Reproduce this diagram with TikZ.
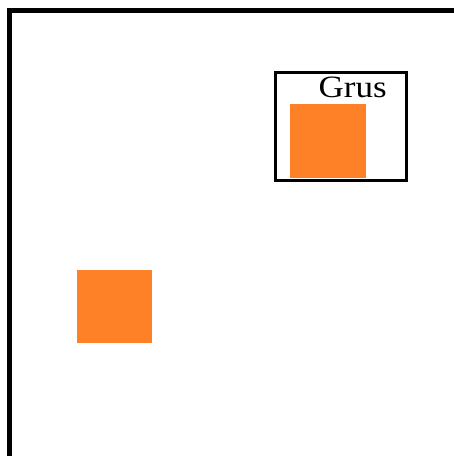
\documentclass[tikz,border=0pt]{standalone}
\usepackage{fontspec}
\setmainfont{Liberation Serif}
\definecolor{sqorange}{HTML}{FE8027}
\begin{document}
\begin{tikzpicture}[x=1pt,y=-1pt,
  frame/.style={line width=5.5pt,line cap=rect},
  legendbox/.style={draw=black,line width=3pt,fill=white},
  marker/.style={fill=sqorange,draw=none}]
\useasboundingbox (0,0) rectangle (454,456);
\coordinate (tr) at (460,10.5);
\coordinate (tl) at (9.5,10.5);
\coordinate (bl) at (9.5,462);
\draw[frame] (tr) -- (tl) -- (bl);
\node[legendbox,minimum width=131pt,minimum height=108pt,inner sep=0,anchor=north west] (legend) at (273.5,70.5) {};
\node[marker,minimum width=76pt,minimum height=74pt,inner sep=0,anchor=north west] (legmark) at (289.5,104) {};
\node[inner sep=0,anchor=base west,font=\fontsize{31}{31}\selectfont] (label) at (318.5,97) {\scalebox{1.13}[1]{Grus}};
\node[marker,minimum width=75pt,minimum height=73pt,inner sep=0,anchor=north west] (pt) at (77,269.3) {};
\end{tikzpicture}
\end{document}
